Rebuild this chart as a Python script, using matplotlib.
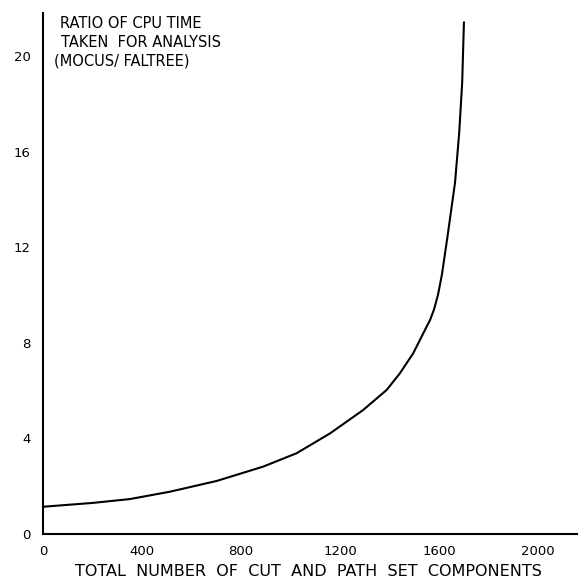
import matplotlib
matplotlib.use("Agg")
import matplotlib.pyplot as plt

# Ratio of CPU time (MOCUS / FALTREE) vs. total number of cut and path set components
components = [0, 200, 350, 513, 702, 890, 1025, 1160, 1294, 1389, 1442, 1496,
              1550, 1564, 1580, 1596, 1612, 1634, 1665, 1682, 1694, 1701]
cpu_ratio = [1.14, 1.30, 1.46, 1.77, 2.22, 2.82, 3.38, 4.21, 5.19, 6.03, 6.72, 7.56,
             8.67, 8.95, 9.39, 10.0, 10.85, 12.4, 14.7, 16.8, 18.9, 21.4]

x_ticks = [0, 400, 800, 1200, 1600, 2000]
y_ticks = [0, 4, 8, 12, 16, 20]
title_lines = ["RATIO OF CPU TIME", "TAKEN  FOR ANALYSIS", "(MOCUS/ FALTREE)"]
x_label = "TOTAL  NUMBER  OF  CUT  AND  PATH  SET  COMPONENTS"

W, H = 578, 580
fig = plt.figure(figsize=(W / 100, H / 100), dpi=100)
ax = fig.add_axes([43 / W, 1 - 534 / H, (W - 43) / W, (534 - 13) / H])

ax.plot(components, cpu_ratio, color="black", linewidth=1.5,
        solid_joinstyle="round")

ax.set_xlim(0, 2162)
ax.set_ylim(0, 21.8)
ax.set_xticks(x_ticks)
ax.set_yticks(y_ticks)
ax.set_xticklabels([str(v) for v in x_ticks])
ax.set_yticklabels([str(v) for v in y_ticks])
ax.tick_params(length=0, labelsize=9.5, colors="black")
ax.tick_params(axis="y", pad=9)
ax.tick_params(axis="x", pad=8)

for side in ("top", "right"):
    ax.spines[side].set_visible(False)
for side in ("left", "bottom"):
    ax.spines[side].set_linewidth(1.5)
    ax.spines[side].set_color("black")

# label block in upper-left corner
for i, (line, xpx) in enumerate(zip(title_lines, [60, 61, 54])):
    fig.text(xpx / W, 1 - (23.5 + 19 * i) / H, line, fontsize=10.5,
             ha="left", va="center")

fig.text(308 / W, 1 - 572 / H, x_label, fontsize=11.5, ha="center", va="center")

fig.savefig("out.png", dpi=100)
